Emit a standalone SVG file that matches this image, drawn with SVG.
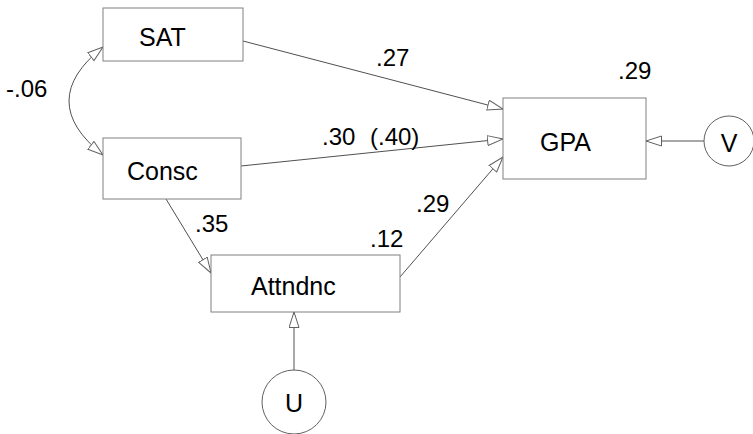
<svg xmlns="http://www.w3.org/2000/svg" width="753" height="434" viewBox="0 0 753 434">
<style>
.box{fill:#fff;stroke:#808080;stroke-width:1}
.circ{fill:#fff;stroke:#606060;stroke-width:1}
.lbl{font-family:"Liberation Sans",Arial,sans-serif;font-size:25px;fill:#000}
.coef{font-family:"Liberation Sans",Arial,sans-serif;font-size:24px;fill:#000}
.conn{fill:none;stroke:#505050;stroke-width:1}
</style>
<defs>
<marker id="arr" markerUnits="userSpaceOnUse" markerWidth="17" markerHeight="12" refX="16" refY="5.5" orient="auto-start-reverse" viewBox="0 0 17 12">
<path d="M0.5,0.5 L16,5.5 L0.5,10.5 z" fill="#fff" stroke="#606060" stroke-width="1"/>
</marker>
</defs>
<rect width="753" height="434" fill="#fff"/>
<g id="connectors">
<path class="conn" d="M243,41 L503,109" marker-end="url(#arr)"/>
<path class="conn" d="M241,166 L503,139" marker-end="url(#arr)"/>
<path class="conn" d="M400,277 L503,157" marker-end="url(#arr)"/>
<path class="conn" d="M166,199 L211,273" marker-end="url(#arr)"/>
<path class="conn" d="M294,371 L294,312" marker-end="url(#arr)"/>
<path class="conn" d="M704,141 L646,141" marker-end="url(#arr)"/>
<path class="conn" d="M103,47 Q35,101 103,155" marker-start="url(#arr)" marker-end="url(#arr)"/>
<text class="coef" x="376" y="66">.27</text>
<text class="coef" x="322" y="145">.30</text>
<text class="coef" x="370" y="145">(.40)</text>
<text class="coef" x="416" y="212">.29</text>
<text class="coef" x="195" y="232">.35</text>
<text class="coef" x="6" y="97">-.06</text>
</g>
<g id="SAT">
<rect class="box" x="103" y="8" width="140" height="53"/>
<text class="lbl" x="139" y="46">SAT</text>
</g>
<g id="Consc">
<rect class="box" x="103" y="138" width="138" height="61"/>
<text class="lbl" x="127" y="180">Consc</text>
</g>
<g id="GPA">
<rect class="box" x="503" y="98" width="143" height="81"/>
<text class="lbl" x="540" y="151">GPA</text>
<text class="coef" x="618" y="79">.29</text>
</g>
<g id="Attndnc">
<rect class="box" x="211" y="255" width="189" height="57"/>
<text class="lbl" x="251" y="295">Attndnc</text>
<text class="coef" x="370" y="247">.12</text>
</g>
<g id="V">
<circle class="circ" cx="729" cy="141" r="25"/>
<text class="lbl" x="729" y="152" text-anchor="middle">V</text>
</g>
<g id="U">
<circle class="circ" cx="294" cy="402" r="32"/>
<text class="lbl" x="294" y="412" text-anchor="middle">U</text>
</g>
</svg>
